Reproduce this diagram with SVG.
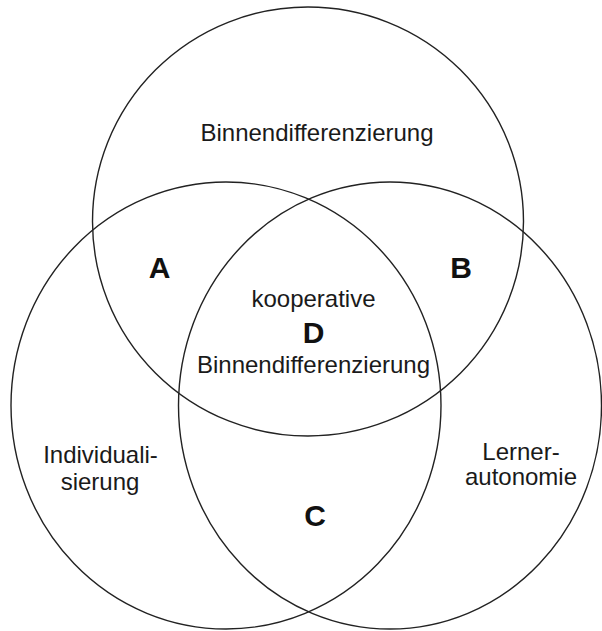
<svg xmlns="http://www.w3.org/2000/svg" width="602" height="631" viewBox="0 0 602 631">
<style>
.c{fill:none;stroke:#222;stroke-width:1.4}
.t{font-family:"Liberation Sans",Arial,sans-serif;font-size:24px;fill:#1a1a1a;text-anchor:middle}
.b{font-family:"Liberation Sans",Arial,sans-serif;font-size:30px;font-weight:bold;fill:#111;text-anchor:middle}
</style>
<rect width="602" height="631" fill="#fff"/>
<g id="circle-binnendifferenzierung">
<ellipse class="c" cx="308" cy="221.5" rx="215.5" ry="214.5"/>
<text class="t" x="317" y="141">Binnendifferenzierung</text>
</g>
<g id="circle-individualisierung">
<ellipse class="c" cx="226" cy="405.5" rx="215" ry="223.5"/>
<text class="t" x="100.5" y="463">Individuali-</text>
<text class="t" x="100" y="490">sierung</text>
</g>
<g id="circle-lernerautonomie">
<ellipse class="c" cx="390" cy="405.5" rx="211.5" ry="223.5"/>
<text class="t" x="521" y="460">Lerner-</text>
<text class="t" x="521" y="485">autonomie</text>
</g>
<g id="region-A"><text class="b" x="159.5" y="278">A</text></g>
<g id="region-B"><text class="b" x="461" y="278">B</text></g>
<g id="region-C"><text class="b" x="315" y="526">C</text></g>
<g id="region-D">
<text class="t" x="313.5" y="307">kooperative</text>
<text class="b" x="313.5" y="343">D</text>
<text class="t" x="313.5" y="373">Binnendifferenzierung</text>
</g>
<g id="connectors"/>
</svg>
